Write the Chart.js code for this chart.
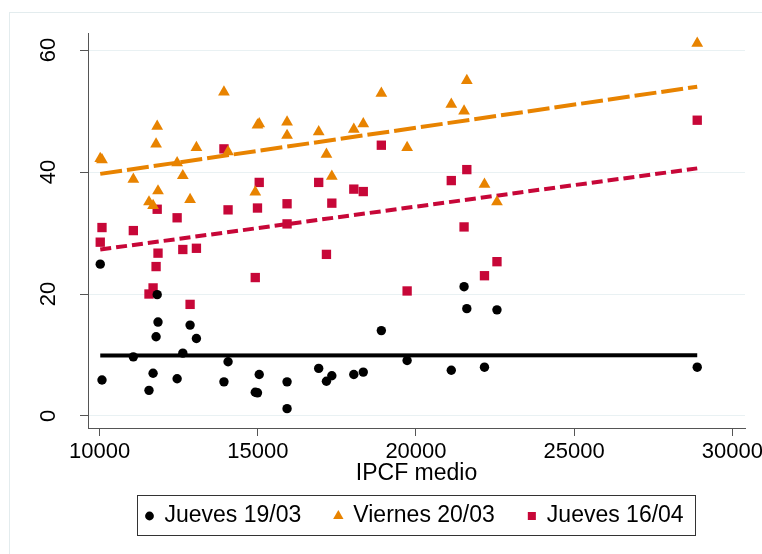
<!DOCTYPE html>
<html>
<head>
<meta charset="utf-8">
<title>IPCF medio</title>
<script src="https://cdn.jsdelivr.net/npm/chart.js@4.4.1/dist/chart.umd.min.js"></script>
<style>
  html, body { margin: 0; padding: 0; background: #fff; }
  canvas { display: block; }
</style>
</head>
<body>
<canvas id="ipcfChart" width="762" height="554"></canvas>
<script>
// ============================================
// DATA
// ============================================

// IPCF medio per zone (shared x for the three days)
const IPCF = [
  10020, 10075, 11066, 11561, 11690, 11785, 11820, 11846,
  12450, 12630, 12860, 13060, 13930, 14060, 14920, 14990,
  15045, 15925, 15925, 16925, 17170, 17340, 18035, 18334,
  18905, 19720, 21116, 21520, 21607, 22165, 22560, 28890
];

const JUEVES_19_03 = [
  24.9, 5.9, 9.7, 4.2, 7.0, 13.0, 19.9, 15.4,
  6.1, 10.3, 14.9, 12.7, 5.6, 8.9, 3.9, 3.8,
  6.8, 5.6, 1.2, 7.8, 5.7, 6.6, 6.8, 7.2,
  14.0, 9.1, 7.5, 21.2, 17.6, 8.0, 17.4, 8.0
];

const VIERNES_20_03 = [
  42.2, 42.0, 38.8, 35.1, 34.5, 44.6, 47.5, 36.9,
  41.5, 39.4, 35.5, 44.0, 53.1, 43.3, 36.7, 47.7,
  47.9, 48.2, 46.0, 46.6, 42.9, 39.3, 47.0, 47.9,
  52.9, 44.0, 51.1, 50.0, 55.0, 38.0, 35.1, 61.1
];

const JUEVES_16_04 = [
  28.5, 30.9, 30.4, 20.0, 21.0, 24.5, 33.9, 26.7,
  32.5, 27.3, 18.3, 27.5, 43.8, 33.8, 22.7, 34.1,
  38.3, 34.8, 31.5, 38.3, 26.5, 34.9, 37.2, 36.8,
  44.4, 20.5, 38.6, 31.0, 40.4, 23.0, 25.3, 48.5
];

// linear fits, ends
const FIT_X = [10020, 28890];
const FIT_19_03 = [9.9, 9.95];
const FIT_20_03 = [39.7, 54.0];
const FIT_16_04 = [27.3, 40.6];

const SERIES_LABELS = ["Jueves 19/03", "Viernes 20/03", "Jueves 16/04"];

const X_TICKS = [10000, 15000, 20000, 25000, 30000];
const Y_TICKS = [0, 20, 40, 60];


// ============================================
// STYLE
// ============================================

const FONT = "'Liberation Sans', Arial, sans-serif";
const BLACK = "#000000";
const ORANGE = "#E88300";
const CRANBERRY = "#C70738";
const GRID_COLOR = "#E9F1F3";
const AXIS_COLOR = "#555555";

Chart.defaults.font.family = FONT;
Chart.defaults.color = "#000";


const toPoints = (xs, ys) => xs.map((x, i) => ({ x, y: ys[i] }));


// ============================================
// PLUGINS
// ============================================

// white background + the faint outer frame of the graph region
const graphFrame = {
  id: "graphFrame",
  beforeDraw(chart) {
    const { ctx, width, height } = chart;
    ctx.save();
    ctx.fillStyle = "#fff";
    ctx.fillRect(0, 0, width, height);
    ctx.strokeStyle = "#E3ECEE";
    ctx.lineWidth = 1;
    ctx.strokeRect(9.5, 12.5, width + 20, height + 20);
    ctx.restore();
  }
};

// boxed legend under the axis title, centred on the plot
const boxedLegend = {
  id: "boxedLegend",
  afterDraw(chart) {
    const { ctx, chartArea } = chart;
    const items = chart.data.datasets.filter(d => d.legend);
    const gap = 33;
    const textOffset = 19;

    ctx.save();
    ctx.font = "23px " + FONT;
    ctx.textBaseline = "middle";

    const widths = items.map(d => textOffset + ctx.measureText(d.label).width);
    const boxW = 8 + widths.reduce((a, b) => a + b, 0) + gap * (items.length - 1) + 12;
    const boxL = Math.round((chartArea.left + chartArea.right) / 2 - boxW / 2) + 0.5;
    const boxT = 495.5;
    const boxH = 40;
    const midY = boxT + 20.5;

    ctx.strokeStyle = "#333";
    ctx.lineWidth = 1;
    ctx.strokeRect(boxL, boxT, Math.round(boxW), boxH);

    let x = boxL + 8;
    items.forEach((d, i) => {
      ctx.fillStyle = d.backgroundColor;
      Chart.helpers.drawPoint(ctx, {
        pointStyle: d.pointStyle,
        radius: d.legendRadius,
        rotation: 0,
        borderWidth: 0
      }, x + 4, midY);
      ctx.fillStyle = "#000";
      ctx.fillText(d.label, x + textOffset, midY);
      x += widths[i] + gap;
    });

    ctx.restore();
  }
};


// ============================================
// CHART
// ============================================

function renderIpcfChart() {

  const ctx = document.getElementById("ipcfChart");

  return new Chart(ctx, {

    type: "scatter",

    data: {
      datasets: [
        {
          label: SERIES_LABELS[0],
          legend: true,
          legendRadius: 4.4,
          data: toPoints(IPCF, JUEVES_19_03),
          pointStyle: "circle",
          pointRadius: 4.7,
          backgroundColor: BLACK,
          borderWidth: 0
        },
        {
          label: SERIES_LABELS[1],
          legend: true,
          legendRadius: 6,
          data: toPoints(IPCF, VIERNES_20_03),
          pointStyle: "triangle",
          pointRadius: 6.8,
          backgroundColor: ORANGE,
          borderWidth: 0
        },
        {
          label: SERIES_LABELS[2],
          legend: true,
          legendRadius: 5.7,
          data: toPoints(IPCF, JUEVES_16_04),
          pointStyle: "rect",
          pointRadius: 6.6,
          backgroundColor: CRANBERRY,
          borderWidth: 0
        },
        {
          label: "Fitted 19/03",
          data: toPoints(FIT_X, FIT_19_03),
          showLine: true,
          pointRadius: 0,
          borderColor: BLACK,
          borderWidth: 4
        },
        {
          label: "Fitted 20/03",
          data: toPoints(FIT_X, FIT_20_03),
          showLine: true,
          pointRadius: 0,
          borderColor: ORANGE,
          borderWidth: 4,
          borderDash: [22, 5]
        },
        {
          label: "Fitted 16/04",
          data: toPoints(FIT_X, FIT_16_04),
          showLine: true,
          pointRadius: 0,
          borderColor: CRANBERRY,
          borderWidth: 4,
          borderDash: [11, 5]
        }
      ]
    },

    options: {
      responsive: false,
      animation: false,
      events: [],

      layout: {
        padding: { top: 33, right: 17, bottom: 60, left: 0 }
      },

      plugins: {
        legend: { display: false },
        tooltip: { enabled: false }
      },

      scales: {

        x: {
          type: "linear",
          min: 9633,
          max: 30400,
          afterBuildTicks: axis => {
            axis.ticks = X_TICKS.map(v => ({ value: v }));
          },
          afterFit: axis => {
            axis.height = 66;
            axis.paddingLeft = 0;
            axis.paddingRight = 0;
          },
          border: { display: true, color: AXIS_COLOR, width: 1 },
          grid: {
            drawOnChartArea: false,
            drawTicks: true,
            tickLength: 8,
            tickColor: AXIS_COLOR
          },
          ticks: {
            padding: 3,
            maxRotation: 0,
            font: { size: 22 },
            callback: v => String(v)
          },
          title: {
            display: true,
            text: "IPCF medio",
            font: { size: 23 },
            padding: { top: 0, bottom: 7 }
          }
        },

        y: {
          type: "linear",
          min: -1.97,
          max: 62.8,
          afterBuildTicks: axis => {
            axis.ticks = Y_TICKS.map(v => ({ value: v }));
          },
          afterFit: axis => {
            axis.width = 88;
            axis.paddingTop = 0;
            axis.paddingBottom = 0;
          },
          border: { display: true, color: AXIS_COLOR, width: 1 },
          grid: {
            color: GRID_COLOR,
            lineWidth: 1,
            drawTicks: true,
            tickLength: 8,
            tickColor: AXIS_COLOR
          },
          ticks: {
            padding: 19,
            minRotation: 90,
            maxRotation: 90,
            crossAlign: "center",
            font: { size: 22 }
          }
        }

      }
    },

    plugins: [graphFrame, boxedLegend]

  });

}

renderIpcfChart();
</script>
</body>
</html>
